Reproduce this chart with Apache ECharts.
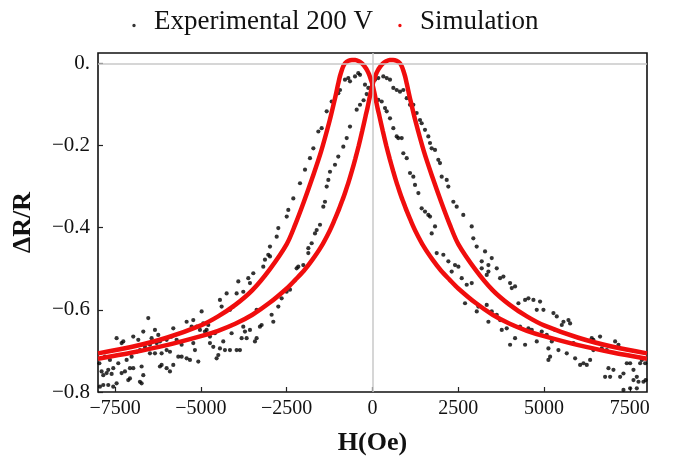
<!DOCTYPE html>
<html>
<head>
<meta charset="utf-8">
<script src="https://cdn.jsdelivr.net/npm/echarts@6.0.0/dist/echarts.min.js"></script>
<style>
html,body{margin:0;padding:0;background:#fff;}
#chart{width:677px;height:461px;}
</style>
</head>
<body>
<div id="chart"></div>
<script>
// ---- tick values and labels ----
const xTickValues = [-7500, -5000, -2500, 0, 2500, 5000, 7500];
const xTickLabels = ['\u22127500', '\u22125000', '\u22122500', '0', '2500', '5000', '7500'];
const yTickValues = [-0.8, -0.6, -0.4, -0.2, 0];
const yTickLabels = ['\u22120.8', '\u22120.6', '\u22120.4', '\u22120.2', '0.'];

// ---- simulation curves (shared field grid) ----
const simH = [-8000,-7000,-6000,-5000,-4500,-4000,-3500,-3000,-2500,-2250,-2000,-1750,-1500,-1250,-1100,
  -1000,-950,-900,-850,-800,-700,-600,-500,-400,-300,-200,-150,-100,-50,0,
  50,100,150,200,300,400,500,600,700,800,850,900,950,1000,
  1100,1250,1500,1750,2000,2250,2500,3000,3500,4000,4500,5000,6000,7000,8000];
const simPeakLeft = [-0.706,-0.690,-0.668,-0.638,-0.616,-0.588,-0.552,-0.502,-0.440,-0.392,-0.337,-0.278,-0.215,-0.140,-0.088,
  -0.050,-0.032,-0.018,-0.007,0.000,0.006,0.008,0.008,0.005,-0.001,-0.011,-0.018,-0.027,-0.039,-0.052,
  -0.070,-0.090,-0.110,-0.128,-0.165,-0.200,-0.232,-0.262,-0.290,-0.315,-0.327,-0.338,-0.349,-0.360,
  -0.380,-0.408,-0.447,-0.478,-0.505,-0.527,-0.548,-0.583,-0.612,-0.634,-0.651,-0.664,-0.686,-0.704,-0.719];
const simPeakRight = [-0.719,-0.704,-0.686,-0.664,-0.651,-0.634,-0.612,-0.583,-0.548,-0.527,-0.505,-0.478,-0.447,-0.408,-0.380,
  -0.360,-0.349,-0.338,-0.327,-0.315,-0.290,-0.262,-0.232,-0.200,-0.165,-0.128,-0.110,-0.090,-0.070,-0.052,
  -0.039,-0.027,-0.018,-0.011,-0.001,0.005,0.008,0.008,0.006,0.000,-0.007,-0.018,-0.032,-0.050,
  -0.088,-0.140,-0.215,-0.278,-0.337,-0.392,-0.440,-0.502,-0.552,-0.588,-0.616,-0.638,-0.668,-0.690,-0.706];

// ---- experimental points ----
const expH = [
  -7944,-7846,-7701,-7555,-7458,-7846,-7701,-7555,-7603,-7409,-7312,-7215,-7118,-7069,-7166,-7020,-6972,-6778,-6729,-6680,
  -6729,-6875,-6778,-6632,-6486,-6535,-6438,-6340,-6243,-6195,-6146,-6000,-5903,-5903,-5806,-5660,-5563,-5417,-5320,-5223,
  -5174,-5126,-5077,-4980,-4932,-4883,-4834,-4786,-4737,-4640,-4592,-4543,-4494,-4446,-4397,-4349,-4300,-4251,-4154,-4106,
  -4057,-3960,-3911,-3863,-3814,-3766,-3717,-3668,-3620,-3571,-3474,-3426,-3377,-3280,-3231,-3183,-3134,-3037,-2988,-2940,
  -2891,-2745,-2648,-2503,-2405,-2163,-2017,-1871,-5563,-5709,-5855,-6000,-6195,-6292,-6486,-7263,-7312,-7458,-7749,-7895,
  -6972,-6826,-6680,-5806,-5417,-5223,-5272,-5029,-4737,-4446,-4154,-3960,-3766,-3571,-3377,-6000,-6146,-6340,-7798,-7652,
  -7960,-7069,
  -1967,-2113,-2308,-2454,-2500,-2745,-2792,-2988,
  -1822,-1724,-1578,-1481,-1335,-1190,-997,-947,-802,-705,-656,-510,-414,-364,-219,-122,-23,
  169,268,364,414,510,607,705,752,851,898,997,1093,1190,1239,1337,1433,1530,1627,1676,1822,1725,
  -364,-461,-656,-752,-851,-997,-1093,-1239,-1335,-1287,-1385,-1433,-1530,-1627,-1676,-1773,-1870,-2210,-170,-260,
  73,169,315,414,510,607,705,801,898,997,1093,1190,1287,1384,1433,1530,1627,1676,1724,1822,1918,1967,2017,2163,2210,
  2356,2454,2646,2891,2938,3037,
  1871,2065,2211,2405,2503,2308,2600,2746,2892,2697,3038,3086,3329,3475,3621,3378,3718,3767,3912,4010,
  4155,4253,4447,4544,4690,4787,4884,4982,4447,4301,4544,4641,4787,4933,5078,5127,5225,5273,5370,5565,
  5711,5759,5516,5322,5127,5176,5419,5662,5856,5905,6051,6148,6245,6342,6437,6632,6389,6682,6437,6827,
  6877,7022,6779,6925,7071,7168,7217,7314,7411,7509,7606,7703,7800,7849,7946,7606,7752,7960,7314,7509,
  7703,7897,3280,3183,3475,3378,3621,3718,3815,4010,4155,4058,3329,3183,3378
];
const expR = [
  -0.787,-0.783,-0.783,-0.787,-0.779,-0.759,-0.746,-0.742,-0.756,-0.730,-0.754,-0.750,-0.771,-0.767,-0.722,-0.714,-0.742,-0.775,-0.779,-0.759,
  -0.738,-0.702,-0.698,-0.690,-0.685,-0.620,-0.669,-0.649,-0.661,-0.738,-0.734,-0.742,-0.750,-0.702,-0.734,-0.714,-0.714,-0.718,-0.722,-0.681,
  -0.698,-0.641,-0.726,-0.604,-0.633,-0.653,-0.649,-0.637,-0.665,-0.690,-0.657,-0.718,-0.710,-0.576,-0.592,-0.677,-0.698,-0.560,-0.600,-0.657,
  -0.592,-0.560,-0.531,-0.698,-0.669,-0.556,-0.653,-0.669,-0.523,-0.535,-0.511,-0.677,-0.669,-0.641,-0.637,-0.495,-0.478,-0.466,-0.470,-0.612,
  -0.629,-0.592,-0.572,-0.556,-0.551,-0.495,-0.491,-0.462,-0.685,-0.673,-0.665,-0.673,-0.677,-0.681,-0.706,-0.677,-0.681,-0.669,-0.754,-0.750,
  -0.665,-0.673,-0.653,-0.645,-0.629,-0.625,-0.641,-0.649,-0.681,-0.694,-0.698,-0.698,-0.641,-0.649,-0.600,-0.698,-0.706,-0.706,-0.714,-0.722,
  -0.730,-0.742,
  -0.259,-0.292,-0.329,-0.357,-0.373,-0.401,-0.422,-0.446,
  -0.231,-0.207,-0.166,-0.158,-0.117,-0.093,-0.073,-0.065,-0.040,-0.036,-0.044,-0.032,-0.024,-0.028,-0.052,-0.060,-0.057,
  -0.089,-0.093,-0.109,-0.117,-0.134,-0.158,-0.178,-0.182,-0.182,-0.219,-0.231,-0.267,-0.276,-0.296,-0.316,-0.353,-0.361,-0.369,-0.373,-0.397,-0.414,
  -0.101,-0.113,-0.154,-0.182,-0.203,-0.227,-0.247,-0.264,-0.300,-0.284,-0.337,-0.349,-0.393,-0.406,-0.414,-0.438,-0.450,-0.499,-0.075,-0.090,
  -0.040,-0.036,-0.032,-0.036,-0.040,-0.060,-0.065,-0.069,-0.065,-0.085,-0.101,-0.101,-0.121,-0.138,-0.146,-0.162,-0.178,-0.194,-0.207,-0.211,-0.235,-0.243,-0.276,-0.284,-0.300,
  -0.337,-0.349,-0.369,-0.397,-0.426,-0.446,
  -0.462,-0.466,-0.482,-0.491,-0.495,-0.507,-0.523,-0.539,-0.535,-0.584,-0.604,-0.592,-0.588,-0.604,-0.612,-0.629,-0.625,-0.649,-0.645,-0.685,
  -0.669,-0.584,-0.576,-0.572,-0.576,-0.600,-0.580,-0.600,-0.685,-0.641,-0.645,-0.649,-0.677,-0.653,-0.661,-0.694,-0.677,-0.608,-0.616,-0.629,
  -0.625,-0.633,-0.637,-0.649,-0.722,-0.714,-0.698,-0.706,-0.681,-0.718,-0.734,-0.730,-0.734,-0.722,-0.673,-0.665,-0.669,-0.694,-0.698,-0.698,
  -0.742,-0.746,-0.763,-0.763,-0.677,-0.685,-0.763,-0.755,-0.730,-0.730,-0.746,-0.763,-0.730,-0.722,-0.730,-0.771,-0.775,-0.771,-0.795,-0.791,
  -0.791,-0.775,-0.458,-0.482,-0.474,-0.507,-0.499,-0.523,-0.519,-0.535,-0.543,-0.547,-0.515,-0.499,-0.491
];

const FONT = 'Liberation Serif';
const expData = expH.map((h, i) => [h, expR[i]]);
const leftCurve = simH.map((h, i) => [h, simPeakLeft[i]]);
const rightCurve = simH.map((h, i) => [h, simPeakRight[i]]);

// small legend dot placed near the text baseline (box 30 x 14)
const legendDot = 'path://M0,0L0,0.01ZM30,14L30,13.99ZM13.3,11a1.7,1.7 0 1,0 3.4,0a1.7,1.7 0 1,0 -3.4,0Z';

const chart = echarts.init(document.getElementById('chart'), null, {renderer: 'canvas'});
chart.setOption({
  animation: false,
  backgroundColor: '#fff',
  legend: {
    data: ['Experimental 200 V', 'Simulation'],
    left: 114, top: 3,
    icon: legendDot,
    itemWidth: 30, itemHeight: 14, itemGap: 12,
    textStyle: {fontFamily: FONT, fontSize: 27, color: '#111'}
  },
  grid: {left: 98, right: 30, top: 53, bottom: 69, show: true, borderColor: '#111', borderWidth: 1.6, backgroundColor: 'transparent'},
  xAxis: {
    type: 'value', min: -8000, max: 8000,
    name: 'H(Oe)', nameLocation: 'middle', nameGap: 38,
    nameTextStyle: {fontFamily: FONT, fontSize: 26, fontWeight: 'bold', color: '#111'},
    axisLine: {show: false, onZero: false},
    splitLine: {show: false},
    axisTick: {show: true, inside: true, length: 5, lineStyle: {color: '#222', width: 1.2}, customValues: xTickValues},
    axisLabel: {
      fontFamily: FONT, fontSize: 20, color: '#111', margin: 7,
      customValues: xTickValues,
      formatter: v => xTickLabels[xTickValues.indexOf(v)]
    }
  },
  yAxis: {
    type: 'value', min: -0.8, max: 0.025,
    name: '\u0394R/R', nameLocation: 'middle', nameGap: 62, nameRotate: 90,
    nameTextStyle: {fontFamily: FONT, fontSize: 26, fontWeight: 'bold', color: '#111'},
    axisLine: {show: false, onZero: false},
    splitLine: {show: false},
    axisTick: {show: true, inside: true, length: 5, lineStyle: {color: '#222', width: 1.2}, customValues: yTickValues},
    axisLabel: {
      fontFamily: FONT, fontSize: 21, color: '#111', margin: 8,
      customValues: yTickValues,
      formatter: v => {
        const i = yTickValues.findIndex(t => Math.abs(t - v) < 1e-9);
        return i >= 0 ? yTickLabels[i] : '';
      }
    }
  },
  series: [
    {
      name: 'zero', type: 'scatter', data: [], z: 1, silent: true,
      markLine: {
        silent: true, symbol: 'none', label: {show: false},
        lineStyle: {color: '#c8c8c8', width: 1.5, type: 'solid'},
        data: [{xAxis: 0}, {yAxis: 0}]
      }
    },
    {
      name: 'Experimental 200 V', type: 'scatter', data: expData,
      symbol: 'circle', symbolSize: 4.2, itemStyle: {color: '#000'}, z: 3
    },
    {
      name: 'Simulation', type: 'line', data: leftCurve, showSymbol: false,
      smooth: 0.3, lineStyle: {color: '#f00d0d', width: 4.5}, itemStyle: {color: '#f00d0d'}, z: 4
    },
    {
      name: 'Simulation', type: 'line', data: rightCurve, showSymbol: false,
      smooth: 0.3, lineStyle: {color: '#f00d0d', width: 4.5}, itemStyle: {color: '#f00d0d'}, z: 4
    }
  ]
});
</script>
</body>
</html>
